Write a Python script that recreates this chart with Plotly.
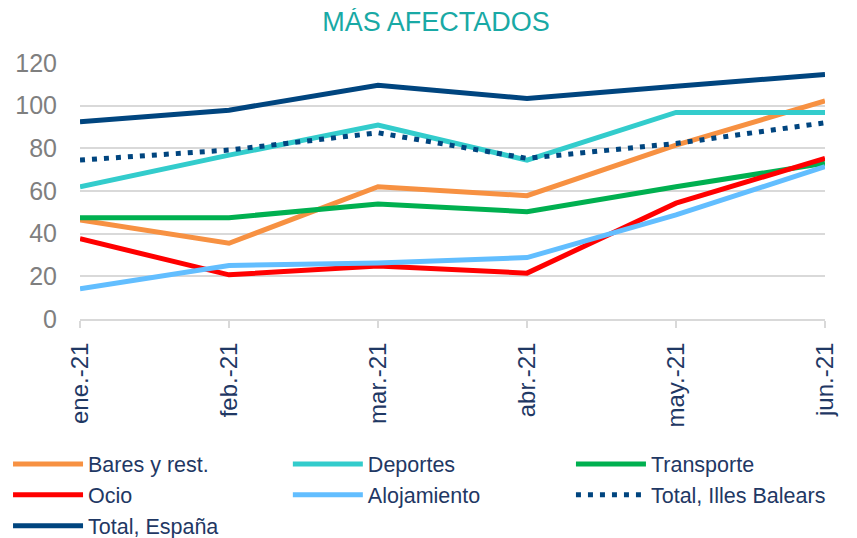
import plotly.graph_objects as go

months = ["ene.-21", "feb.-21", "mar.-21", "abr.-21", "may.-21", "jun.-21"]

bares = [46.4, 35.5, 62.0, 57.8, 81.5, 102.2]
deportes = [62.0, 76.8, 90.9, 74.5, 96.8, 96.8]
transporte = [47.5, 47.5, 53.9, 50.3, 62.0, 73.0]
ocio = [37.6, 20.7, 24.9, 21.5, 54.3, 75.3]
alojamiento = [14.2, 25.1, 26.2, 28.8, 48.8, 71.4]
total_ib = [74.5, 79.2, 87.3, 75.3, 82.3, 92.0]
total_es = [92.4, 97.9, 109.6, 103.4, 109.1, 114.6]

# (name, values, colour, dash, legend column)
series = [
    ("Bares y rest.", bares, "#F79142", "solid", "legend"),
    ("Deportes", deportes, "#33CCCC", "solid", "legend2"),
    ("Transporte", transporte, "#00B050", "solid", "legend3"),
    ("Ocio", ocio, "#FF0000", "solid", "legend"),
    ("Alojamiento", alojamiento, "#62BEFF", "solid", "legend2"),
    ("Total, Illes Balears", total_ib, "#00457F", "5px,7px", "legend3"),
    ("Total, España", total_es, "#00457F", "solid", "legend"),
]

fig = go.Figure()
for name, vals, color, dash, lg in series:
    fig.add_trace(go.Scatter(
        x=months, y=vals, name=name, mode="lines",
        line=dict(color=color, width=5, dash=dash),
        cliponaxis=False, legend=lg,
    ))

legend_common = dict(
    orientation="v", xref="paper", yref="paper", xanchor="left",
    y=-0.486, yanchor="top", itemwidth=70,
    font=dict(size=21.5, color="#1F3864"),
    traceorder="normal", bgcolor="rgba(0,0,0,0)",
)

fig.update_layout(
    width=849, height=530,
    margin=dict(l=72, r=32, t=55, b=219, autoexpand=False),
    paper_bgcolor="white", plot_bgcolor="white",
    font=dict(family="Liberation Sans, Arial, sans-serif"),
    title=dict(text="MÁS AFECTADOS", x=0.478, xanchor="center", xref="paper",
               y=0.9736, yanchor="middle", yref="container",
               font=dict(size=27, color="#19A9A5")),
    showlegend=True,
    legend=dict(x=-0.0966, **legend_common),
    legend2=dict(x=0.279, **legend_common),
    legend3=dict(x=0.659, **legend_common),
    xaxis=dict(
        type="category", range=[0, 5], showgrid=False, automargin=False,
        showline=True, linecolor="#D9D9D9", linewidth=2,
        ticks="outside", ticklen=7, tickcolor="#D9D9D9", tickwidth=2,
        tickangle=-90, tickfont=dict(size=24, color="#1F3864"),
        ticklabelstandoff=5,
        zeroline=False,
    ),
    yaxis=dict(
        range=[0, 120], dtick=20, showgrid=True, gridcolor="#D9D9D9", gridwidth=2,
        zeroline=False, showline=False, automargin=False,
        tickfont=dict(size=25, color="#7F7F7F"), ticks="", ticklabelstandoff=22,
    ),
)

fig.write_html("out.html")
